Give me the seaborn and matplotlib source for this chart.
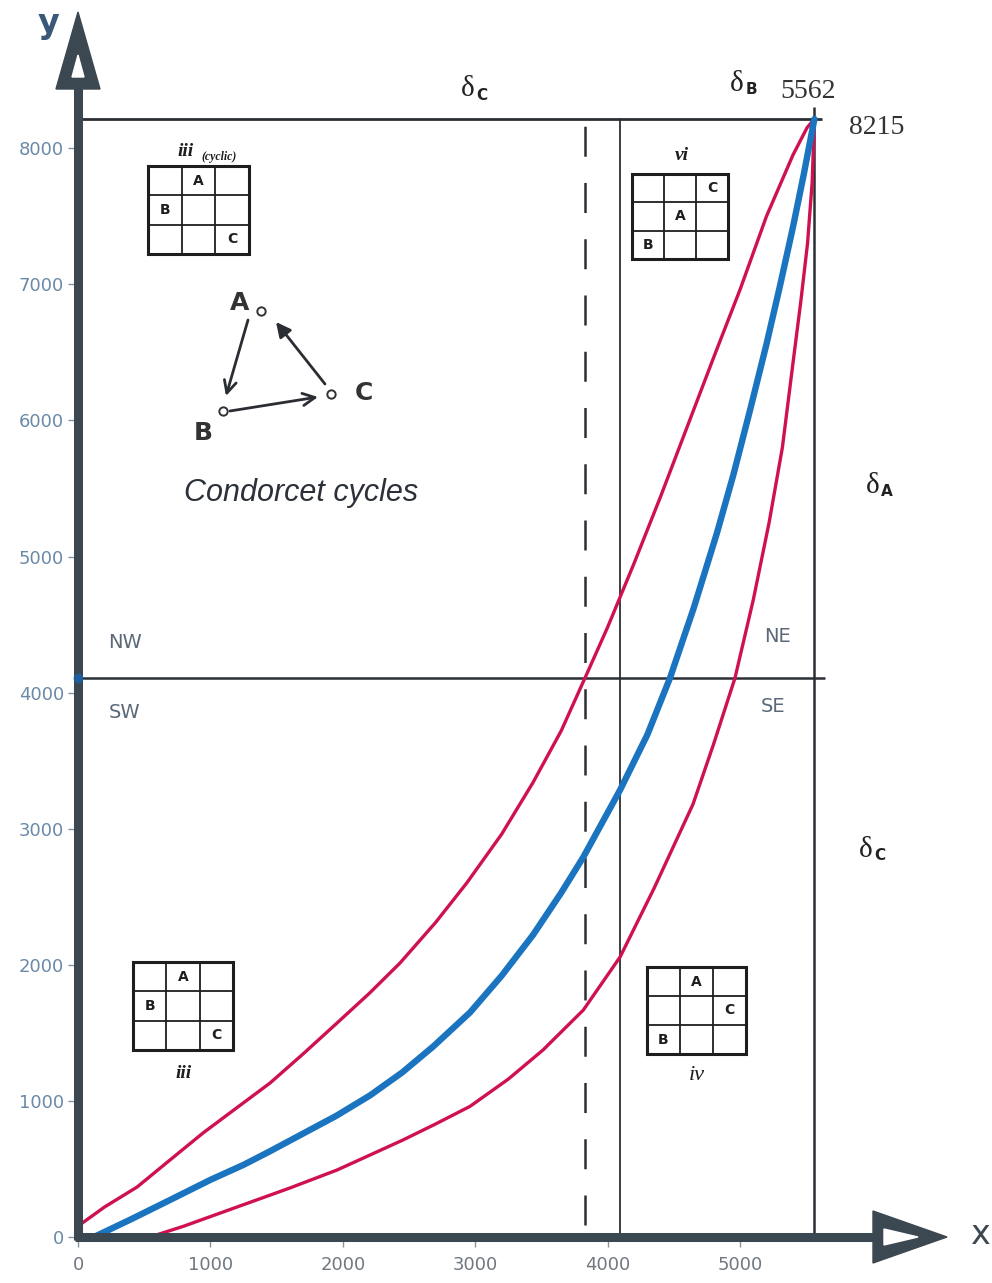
import numpy as np
import pandas as pd
import matplotlib
matplotlib.use("Agg")
import matplotlib.pyplot as plt
import seaborn as sns
from matplotlib.patches import Polygon, Rectangle

# ---------------- data ----------------
upper_x = [0, 200, 446, 700, 944, 1200, 1450, 1700, 1956, 2200, 2432, 2700, 2936, 3200, 3437, 3650,
           3829, 4000, 4200, 4400, 4600, 4800, 5000, 5200, 5400, 5506, 5562]
upper_y = [80, 220, 367, 570, 764, 950, 1131, 1345, 1572, 1790, 2013, 2310, 2601, 2960, 3340, 3720,
           4107, 4480, 4950, 5440, 5950, 6460, 6960, 7500, 7950, 8150, 8215]

blue_x = [120, 400, 695, 1000, 1250, 1450, 1700, 1950, 2205, 2450, 2683, 2961, 3200, 3437, 3650, 3817,
          4094, 4300, 4471, 4650, 4826, 4950, 5076, 5200, 5300, 5400, 5480, 5562]
blue_y = [0, 130, 272, 420, 530, 630, 760, 890, 1040, 1210, 1400, 1650, 1920, 2220, 2530, 2792,
          3284, 3690, 4107, 4620, 5173, 5600, 6076, 6560, 6980, 7420, 7800, 8215]

lower_x = [544, 800, 1200, 1600, 1956, 2200, 2455, 2700, 2961, 3250, 3512, 3817, 4094, 4350, 4645,
           4800, 4962, 5100, 5220, 5320, 5400, 5460, 5510, 5545, 5562]
lower_y = [0, 80, 220, 360, 492, 600, 713, 830, 960, 1160, 1374, 1668, 2057, 2560, 3180,
           3620, 4107, 4680, 5250, 5800, 6420, 6880, 7300, 7750, 8215]

x_max, y_max = 5562, 8215          # corner values written on the chart
y_mid = 4107                        # NW/NE - SW/SE divider
x_solid = 4094                      # solid vertical divider
x_dashed = 3829                     # dashed vertical divider

x_ticks = [0, 1000, 2000, 3000, 4000, 5000]
y_ticks = [0, 1000, 2000, 3000, 4000, 5000, 6000, 7000, 8000]
quadrants = ["NW", "SW", "NE", "SE"]

# ---------------- styling ----------------
sns.set_theme(style="white")
plt.rcParams['font.family'] = ['DejaVu Sans']

RED = "#cf1150"
BLUE = "#1a74bf"
AXC = "#3b4751"
LINEC = "#2b2f34"

W, H = 992, 1283
fig = plt.figure(figsize=(W / 100, H / 100), dpi=100)

# pixel frame of the main axes
PX0, PX1 = 78, 960
PY0, PY1 = 1237, 10
SX, SY = 0.1324, 0.1361   # px per data unit
ax = fig.add_axes([PX0 / W, (H - PY0) / H, (PX1 - PX0) / W, (PY0 - PY1) / H])
ax.set_xlim(0, (PX1 - PX0) / SX)
ax.set_ylim(0, (PY0 - PY1) / SY)
for s in ax.spines.values():
    s.set_visible(False)
ax.set_facecolor("white")

# curves
sns.lineplot(x=upper_x, y=upper_y, ax=ax, color=RED, linewidth=2.4, sort=False, estimator=None, zorder=4)
sns.lineplot(x=lower_x, y=lower_y, ax=ax, color=RED, linewidth=2.4, sort=False, estimator=None, zorder=4)
sns.lineplot(x=blue_x, y=blue_y, ax=ax, color=BLUE, linewidth=4.6, sort=False, estimator=None, zorder=5)

# reference lines
ax.plot([0, x_max + 57], [y_max, y_max], color=LINEC, lw=2.0, zorder=3, solid_capstyle='butt')
ax.plot([0, x_max + 80], [y_mid, y_mid], color=LINEC, lw=1.8, zorder=3, solid_capstyle='butt')
ax.plot([x_max, x_max], [0, y_max + 85], color=LINEC, lw=1.8, zorder=3, solid_capstyle='butt')
ax.plot([x_solid, x_solid], [0, y_max], color=LINEC, lw=1.3, zorder=3)
ax.plot([x_dashed, x_dashed], [90, y_max], color=LINEC, lw=1.8, zorder=3,
        linestyle=(0, (12, 10.5)))

# axes (thick) lines
ax.plot([0, 0], [-25, (PY0 - 88) / SY], color=AXC, lw=6.5, clip_on=False, zorder=6, solid_capstyle='butt')
ax.plot([-25, (875 - PX0) / SX], [0, 0], color=AXC, lw=6.5, clip_on=False, zorder=6, solid_capstyle='butt')
ax.plot([0], [y_mid], 'o', color="#1d5f9e", ms=6, clip_on=False, zorder=7)

ax.set_xticks(x_ticks)
ax.set_yticks(y_ticks)
ax.tick_params(axis='y', left=True, length=7, width=1, color='#8a939b',
               labelcolor='#6a8aa8', labelsize=13, pad=3)
ax.tick_params(axis='x', bottom=True, length=7, width=1, color='#8a939b',
               labelcolor='#707880', labelsize=13, pad=7)
ax.grid(False)

# ---------------- overlay in pixel coordinates ----------------
ov = fig.add_axes([0, 0, 1, 1])
ov.set_xlim(0, W)
ov.set_ylim(H, 0)
ov.axis('off')
ov.patch.set_alpha(0)

# arrow heads
ov.add_patch(Polygon([(78, 12), (56, 89), (100, 89)], closed=True, color=AXC, zorder=6))
ov.add_patch(Polygon([(78, 55), (72, 77), (84, 77)], closed=True, color="white", zorder=7))
ov.add_patch(Polygon([(947, 1237), (873, 1211), (873, 1263)], closed=True, color=AXC, zorder=6))
ov.add_patch(Polygon([(918, 1237), (884, 1229), (884, 1245)], closed=True, color="white", zorder=7))

ov.text(48, 24, "y", fontsize=24, fontweight='bold', color="#3a5878", ha='center', va='center')
ov.text(980, 1235, "x", fontsize=24, color="#3d4852", ha='center', va='center')

# delta labels
def delta(x, y, sub):
    ov.text(x, y, "δ", fontsize=21, family="Liberation Serif", color="#222222", ha='center', va='center')
    ov.text(x + 14, y + 6, sub, fontsize=11, fontweight='bold', color="#222222", ha='center', va='center')

delta(468, 89, "C")
delta(737, 84, "B")
delta(873, 486, "A")
delta(866, 850, "C")

ov.text(808, 92, f"{x_max}", fontsize=20, family="Liberation Serif", color="#333333", ha='center', va='center')
ov.text(877, 127, f"{y_max}", fontsize=20, family="Liberation Serif", color="#333333", ha='center', va='center')

# quadrant labels
qpos = {"NW": (125, 642), "SW": (125, 712), "NE": (778, 637), "SE": (773, 706)}
for q in quadrants:
    ov.text(*qpos[q], q, fontsize=14, color="#5a6878", ha='center', va='center')

# 3x3 ranking grids
def grid3(x0, y0, x1, y1, cells):
    ov.add_patch(Rectangle((x0, y0), x1 - x0, y1 - y0, fill=False, lw=2.2, ec="#1e1e1e", zorder=5))
    for k in (1, 2):
        xx = x0 + (x1 - x0) * k / 3
        yy = y0 + (y1 - y0) * k / 3
        ov.plot([xx, xx], [y0, y1], color="#1e1e1e", lw=1.3, zorder=5)
        ov.plot([x0, x1], [yy, yy], color="#1e1e1e", lw=1.3, zorder=5)
    cw, ch = (x1 - x0) / 3, (y1 - y0) / 3
    for letter, (r, c) in cells.items():
        ov.text(x0 + cw * (c + 0.5), y0 + ch * (r + 0.5), letter, fontsize=10, fontweight='bold',
                color="#1e1e1e", ha='center', va='center', zorder=6)

grid3(148, 166, 249, 254, {"A": (0, 1), "B": (1, 0), "C": (2, 2)})
grid3(632, 174, 728, 259, {"C": (0, 2), "A": (1, 1), "B": (2, 0)})
grid3(133, 962, 233, 1050, {"A": (0, 1), "B": (1, 0), "C": (2, 2)})
grid3(647, 967, 746, 1054, {"A": (0, 1), "C": (1, 2), "B": (2, 0)})

ov.text(186, 152, "iii", fontsize=14, family="Liberation Serif", style='italic', fontweight='bold',
        color="#1e1e1e", ha='center', va='center')
ov.text(219, 157, "(cyclic)", fontsize=8.5, family="Liberation Serif", style='italic', fontweight='bold',
        color="#1e1e1e", ha='center', va='center')
ov.text(682, 156, "vi", fontsize=14, family="Liberation Serif", style='italic', fontweight='bold',
        color="#1e1e1e", ha='center', va='center')
ov.text(184, 1073, "iii", fontsize=14, family="Liberation Serif", style='italic', fontweight='bold',
        color="#1e1e1e", ha='center', va='center')
ov.text(697, 1076, "iv", fontsize=16, family="Liberation Serif", style='italic',
        color="#1e1e1e", ha='center', va='center')

# Condorcet cycle diagram
ov.text(240, 303, "A", fontsize=18, fontweight='bold', color="#333333", ha='center', va='center')
ov.text(203, 433, "B", fontsize=18, fontweight='bold', color="#333333", ha='center', va='center')
ov.text(364, 393, "C", fontsize=18, fontweight='bold', color="#333333", ha='center', va='center')
ov.plot([261, 223, 331], [311, 411, 394], 'o', mfc='white', mec='#333333', ms=6, mew=1.4)
arrow_kw = dict(arrowstyle='->', lw=2.0, color='#2a2e33', mutation_scale=22, shrinkA=0, shrinkB=0)
ov.annotate('', xy=(226, 396), xytext=(248, 320), arrowprops=arrow_kw)
ov.annotate('', xy=(318, 397), xytext=(230, 411), arrowprops=arrow_kw)
ov.annotate('', xy=(276, 322), xytext=(325, 384), arrowprops=dict(arrowstyle='-|>', lw=2.0, color='#2a2e33',
                                                                     mutation_scale=22, shrinkA=0, shrinkB=0))
ov.text(301, 493, "Condorcet cycles", fontsize=22, family="Liberation Sans", style='italic',
        color="#2c3038", ha='center', va='center')

fig.savefig("out.png", dpi=100)
